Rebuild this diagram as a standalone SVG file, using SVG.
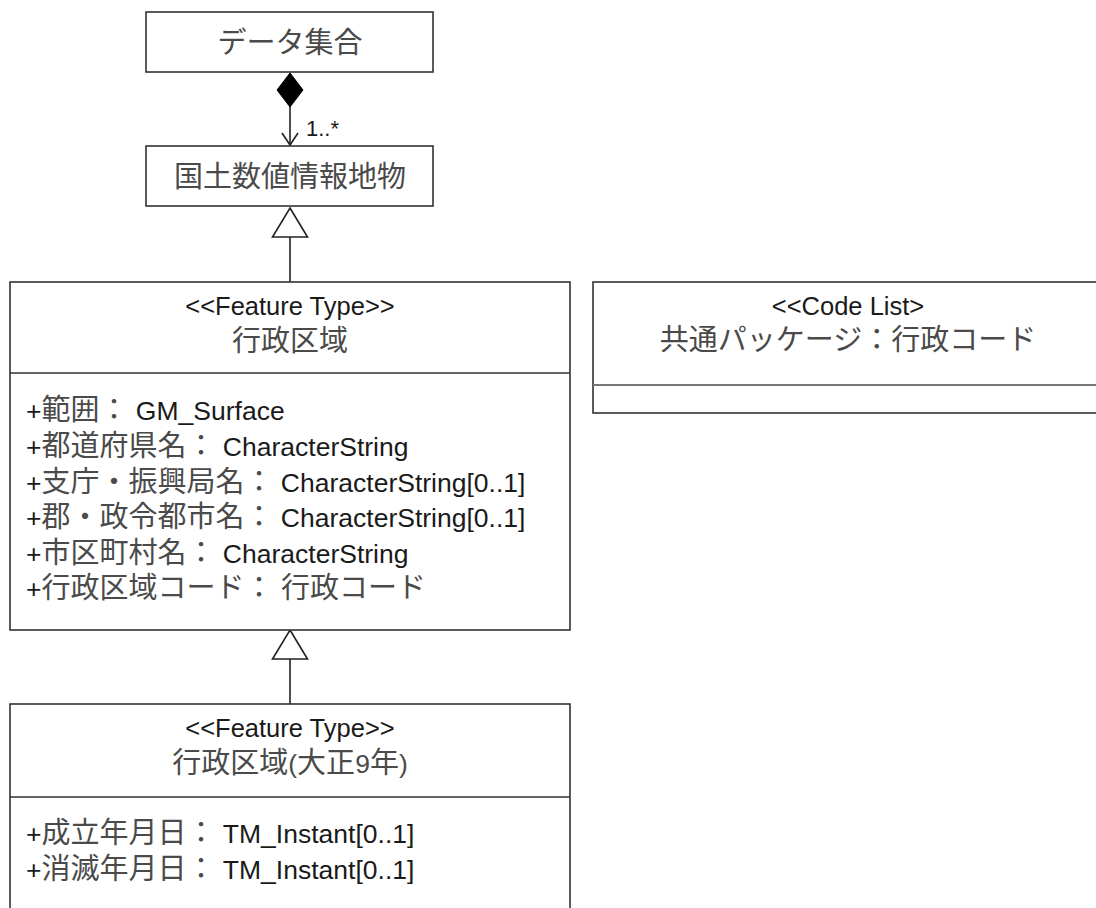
<svg xmlns="http://www.w3.org/2000/svg" width="1096" height="908" viewBox="0 0 1096 908">
  <style>
    .box{fill:#fff;stroke:#333;stroke-width:1.6}
    .div{stroke:#333;stroke-width:1.6}
    .t{font-family:"Liberation Sans","Noto Sans CJK JP",sans-serif;font-size:26.5px;fill:#1a1a1a}
    .st{font-size:25.5px}
    .j{font-family:"Noto Sans CJK JP",sans-serif;font-size:29px;fill:#4a4a4a}
    .nm{fill:#4a4a4a}
    .c{text-anchor:middle}
    .ln{stroke:#222;stroke-width:1.6;fill:none}
    .gen{fill:#fff;stroke:#222;stroke-width:1.6}
    .mult{font-family:"Liberation Sans",sans-serif;font-size:22px;fill:#1a1a1a}
  </style>
  <rect width="1096" height="908" fill="#fff"/>

  <g id="connectors">
    <path class="ln" d="M290,107 V145"/>
    <polygon points="290,73 303,90 290,107 277,90" fill="#000" stroke="#000" stroke-width="1"/>
    <path class="ln" d="M282,133 L290,145 L298,133"/>
    <text class="mult" x="306" y="136">1..*</text>
    <path class="ln" d="M290,237 V282"/>
    <polygon class="gen" points="290,208 307.5,237 272.5,237"/>
    <path class="ln" d="M290,659 V704"/>
    <polygon class="gen" points="290,630 307.5,659 272.5,659"/>
  </g>

  <g id="dataset">
    <rect class="box" x="146" y="12" width="287" height="60"/>
    <text class="t j nm c" x="290" y="52.5">データ集合</text>
  </g>

  <g id="feature">
    <rect class="box" x="146" y="146" width="287" height="60"/>
    <text class="t j nm c" x="290" y="186.5">国土数値情報地物</text>
  </g>

  <g id="gyosei">
    <rect class="box" x="10" y="282" width="560" height="348"/>
    <line class="div" x1="10" y1="373" x2="570" y2="373"/>
    <text class="t st c" x="290" y="315">&lt;&lt;Feature Type&gt;&gt;</text>
    <text class="t j nm c" x="290" y="351">行政区域</text>
    <text class="t" x="26" y="420">+<tspan class="j">範囲：</tspan> GM_Surface</text>
    <text class="t" x="26" y="456">+<tspan class="j">都道府県名：</tspan> CharacterString</text>
    <text class="t" x="26" y="492">+<tspan class="j">支庁・振興局名：</tspan> CharacterString[0..1]</text>
    <text class="t" x="26" y="527">+<tspan class="j">郡・政令都市名：</tspan> CharacterString[0..1]</text>
    <text class="t" x="26" y="563">+<tspan class="j">市区町村名：</tspan> CharacterString</text>
    <text class="t" x="26" y="598">+<tspan class="j">行政区域コード：</tspan> <tspan class="j">行政コード</tspan></text>
  </g>

  <g id="codelist">
    <rect class="box" x="593" y="282" width="510" height="131"/>
    <line x1="593" y1="385" x2="1096" y2="385" stroke="#777" stroke-width="2"/>
    <text class="t st c" x="848" y="315">&lt;&lt;Code List&gt;</text>
    <text class="t j nm c" x="848" y="350">共通パッケージ：行政コード</text>
  </g>

  <g id="taisho">
    <rect class="box" x="10" y="704" width="560" height="250"/>
    <line class="div" x1="10" y1="797" x2="570" y2="797"/>
    <text class="t st c" x="290" y="737">&lt;&lt;Feature Type&gt;&gt;</text>
    <text class="t nm c" x="290" y="773"><tspan class="j">行政区域</tspan>(<tspan class="j">大正</tspan>9<tspan class="j">年</tspan>)</text>
    <text class="t" x="26" y="843">+<tspan class="j">成立年月日：</tspan> TM_Instant[0..1]</text>
    <text class="t" x="26" y="879">+<tspan class="j">消滅年月日：</tspan> TM_Instant[0..1]</text>
  </g>
</svg>
